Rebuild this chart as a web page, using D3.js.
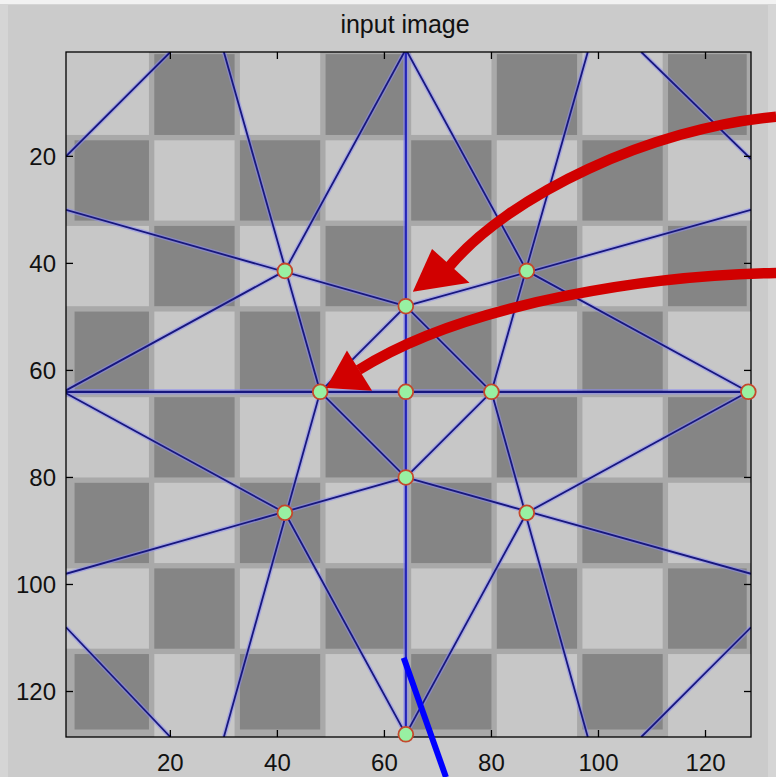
<!DOCTYPE html>
<html>
<head>
<meta charset="utf-8">
<script src="https://cdn.jsdelivr.net/npm/d3@7"></script>
<style>
  html, body { margin: 0; padding: 0; background: #cccccc; }
  svg { display: block; }
  text { font-family: "Liberation Sans", Arial, Helvetica, sans-serif; fill: #111; }
</style>
</head>
<body>
<div id="chart"></div>
<script>
// tick labels
var xTicks = [20, 40, 60, 80, 100, 120];
var yTicks = [20, 40, 60, 80, 100, 120];

// checkerboard image, 128 x 128 pixels in 8 x 8 cells
var imageSize = 128;
var cellCount = 8;

// detected points (col, row)
var pointX = [41.4, 64, 86.6, 48, 64, 80, 128, 41.4, 64, 86.6, 64];
var pointY = [41.4, 48, 41.4, 64, 64, 64, 64, 86.6, 80, 86.6, 128];

// line segments [x1, y1, x2, y2]; the first two are the centre axes
var lines = [
    [64, 0.5, 64, 128.5],
    [0.5, 64, 128.5, 64],
    [30, 0.5, 48, 64],
    [98, 0.5, 80, 64],
    [30, 128.5, 48, 64],
    [98, 128.5, 80, 64],
    [0.5, 30, 64, 48],
    [128.5, 30, 64, 48],
    [0.5, 98, 64, 80],
    [128.5, 98, 64, 80],
    [64, 0, 41.4, 41.4],
    [64, 0, 86.6, 41.4],
    [0, 64, 41.4, 41.4],
    [0, 64, 41.4, 86.6],
    [128, 64, 86.6, 41.4],
    [128, 64, 86.6, 86.6],
    [64, 128, 41.4, 86.6],
    [64, 128, 86.6, 86.6],
    [48, 64, 64, 48],
    [64, 48, 80, 64],
    [80, 64, 64, 80],
    [64, 80, 48, 64],
    [0.5, 20, 20, 0.5],
    [108, 0.5, 128.5, 20.5],
    [0.5, 108, 20, 128.5],
    [108, 128.5, 128.5, 108]
];

// red annotation arrows: shaft as cubic bezier [x0,y0, c1x,c1y, c2x,c2y, x1,y1], head [tip, corner, corner]
var arrowShafts = [
    [133.2, 12.6, 109.6, 14.7, 83.5, 27.2, 72.2, 40.5],
    [133.2, 41.8, 111.5, 42.2, 76.0, 46.8, 55.2, 59.9]
];
var arrowHeads = [
    [[65.3, 45.3], [68.9, 37.3], [75.9, 43.6]],
    [[49.1, 63.3], [53.0, 56.3], [57.7, 63.8]]
];

// blue annotation stroke
var blueMark = [63.6, 113.7, 71.5, 136.0];

var W = 776, H = 777;
var axLeft = 66, axTop = 52, axSize = 685;

var x = d3.scaleLinear().domain([0.5, imageSize + 0.5]).range([axLeft, axLeft + axSize]);
var y = d3.scaleLinear().domain([0.5, imageSize + 0.5]).range([axTop, axTop + axSize]);

var svg = d3.select("#chart").append("svg")
    .attr("width", W)
    .attr("height", H);

// figure background with lighter frame
svg.append("rect").attr("width", W).attr("height", H).attr("fill", "#d5d5d5");
svg.append("rect").attr("x", 8).attr("y", 5).attr("width", W - 16).attr("height", H - 5).attr("fill", "#cbcbcb");
svg.append("rect").attr("width", W).attr("height", 4).attr("fill", "#f2f2f2");

svg.append("defs").append("clipPath").attr("id", "axclip")
    .append("rect")
    .attr("x", x(0.5)).attr("y", y(0.5))
    .attr("width", x(imageSize + 0.5) - x(0.5))
    .attr("height", y(imageSize + 0.5) - y(0.5));

// image
var img = svg.append("g").attr("clip-path", "url(#axclip)");
img.append("rect")
    .attr("x", x(0.5)).attr("y", y(0.5))
    .attr("width", x(imageSize + 0.5) - x(0.5))
    .attr("height", y(imageSize + 0.5) - y(0.5))
    .attr("fill", "#a9a9a9");

var cell = imageSize / cellCount;
var cells = [];
for (var r = 0; r < cellCount; r++) {
    for (var c = 0; c < cellCount; c++) {
        cells.push({r: r, c: c, dark: (r + c) % 2 === 1});
    }
}

img.selectAll("rect.cell")
    .data(cells)
    .enter().append("rect")
    .attr("class", "cell")
    .each(function(d) {
        var x0 = d.c * cell + 0.5, x1 = x0 + cell,
            y0 = d.r * cell + 0.5, y1 = y0 + cell;
        var inner = 0.5;
        x0 += d.c === 0 ? (d.dark ? 1.6 : 0) : inner;
        x1 -= d.c === cellCount - 1 ? (d.dark ? 0.8 : 0) : inner;
        y0 += d.r === 0 ? (d.dark ? 0.4 : 0) : inner;
        y1 -= d.r === cellCount - 1 ? (d.dark ? 1.4 : 0) : inner;
        d3.select(this)
            .attr("x", x(x0)).attr("y", y(y0))
            .attr("width", x(x1) - x(x0))
            .attr("height", y(y1) - y(y0))
            .attr("fill", d.dark ? "#858585" : "#c7c7c7");
    });

// lines: soft halo then core
var lg = svg.append("g").attr("clip-path", "url(#axclip)");
lg.selectAll("line.halo")
    .data(lines)
    .enter().append("line")
    .attr("class", "halo")
    .attr("x1", function(d) { return x(d[0]); })
    .attr("y1", function(d) { return y(d[1]); })
    .attr("x2", function(d) { return x(d[2]); })
    .attr("y2", function(d) { return y(d[3]); })
    .attr("stroke", "#8c8cf4")
    .attr("stroke-opacity", 0.55)
    .attr("stroke-width", function(d, i) { return i < 2 ? 5.5 : 4.5; });
lg.selectAll("line.core")
    .data(lines)
    .enter().append("line")
    .attr("class", "core")
    .attr("x1", function(d) { return x(d[0]); })
    .attr("y1", function(d) { return y(d[1]); })
    .attr("x2", function(d) { return x(d[2]); })
    .attr("y2", function(d) { return y(d[3]); })
    .attr("stroke", function(d, i) { return i === 0 ? "#2424b8" : "#17177e"; })
    .attr("stroke-width", function(d, i) { return i < 2 ? 2.2 : 1.8; });

// axes box and ticks
svg.append("rect")
    .attr("x", x(0.5)).attr("y", y(0.5))
    .attr("width", x(imageSize + 0.5) - x(0.5))
    .attr("height", y(imageSize + 0.5) - y(0.5))
    .attr("fill", "none")
    .attr("stroke", "#000")
    .attr("stroke-width", 1.3);

var tickLen = 7;
var ticks = svg.append("g").attr("stroke", "#000").attr("stroke-width", 1.3);
xTicks.forEach(function(t) {
    ticks.append("line").attr("x1", x(t)).attr("x2", x(t)).attr("y1", y(imageSize + 0.5)).attr("y2", y(imageSize + 0.5) - tickLen);
    ticks.append("line").attr("x1", x(t)).attr("x2", x(t)).attr("y1", y(0.5)).attr("y2", y(0.5) + tickLen);
});
yTicks.forEach(function(t) {
    ticks.append("line").attr("y1", y(t)).attr("y2", y(t)).attr("x1", x(0.5)).attr("x2", x(0.5) + tickLen);
    ticks.append("line").attr("y1", y(t)).attr("y2", y(t)).attr("x1", x(imageSize + 0.5)).attr("x2", x(imageSize + 0.5) - tickLen);
});

svg.append("g").selectAll("text")
    .data(xTicks)
    .enter().append("text")
    .attr("x", function(d) { return x(d); })
    .attr("y", y(imageSize + 0.5) + 34)
    .attr("text-anchor", "middle")
    .attr("font-size", 24)
    .text(function(d) { return d; });

svg.append("g").selectAll("text")
    .data(yTicks)
    .enter().append("text")
    .attr("x", x(0.5) - 10)
    .attr("y", function(d) { return y(d); })
    .attr("dy", "0.35em")
    .attr("text-anchor", "end")
    .attr("font-size", 24)
    .text(function(d) { return d; });

svg.append("text")
    .attr("x", 405)
    .attr("y", 33)
    .attr("text-anchor", "middle")
    .attr("font-size", 25)
    .text("input image");

// markers
svg.append("g").selectAll("circle")
    .data(pointX.map(function(v, i) { return [v, pointY[i]]; }))
    .enter().append("circle")
    .attr("cx", function(d) { return x(d[0]); })
    .attr("cy", function(d) { return y(d[1]); })
    .attr("r", 7.4)
    .attr("fill", "#98f0a2")
    .attr("stroke", "#c4482c")
    .attr("stroke-width", 1.8);

// annotations
var red = "#d10000";
svg.append("g").selectAll("path")
    .data(arrowShafts)
    .enter().append("path")
    .attr("d", function(d) {
        var p = d3.path();
        p.moveTo(x(d[0]), y(d[1]));
        p.bezierCurveTo(x(d[2]), y(d[3]), x(d[4]), y(d[5]), x(d[6]), y(d[7]));
        return p.toString();
    })
    .attr("fill", "none")
    .attr("stroke", red)
    .attr("stroke-width", 10.5);

svg.append("g").selectAll("polygon")
    .data(arrowHeads)
    .enter().append("polygon")
    .attr("points", function(d) {
        return d.map(function(p) { return x(p[0]) + "," + y(p[1]); }).join(" ");
    })
    .attr("fill", red);

svg.append("line")
    .attr("x1", x(blueMark[0])).attr("y1", y(blueMark[1]))
    .attr("x2", x(blueMark[2])).attr("y2", y(blueMark[3]))
    .attr("stroke", "#0000ff")
    .attr("stroke-width", 6);
</script>
</body>
</html>
